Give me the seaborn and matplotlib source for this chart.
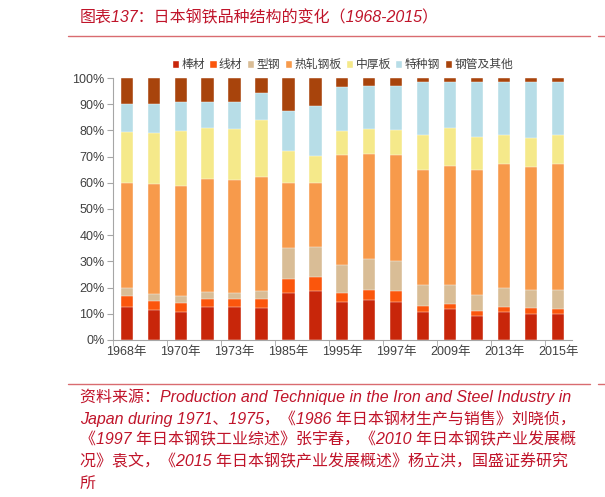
import numpy as np
import pandas as pd
import matplotlib
matplotlib.use("Agg")
import matplotlib.pyplot as plt
from matplotlib.patches import Patch
import seaborn as sns

# 17 bars, only every second one carries a year label
x_labels = ["1968年", "", "1970年", "", "1973年", "", "1985年", "", "1995年", "",
            "1997年", "", "2009年", "", "2013年", "", "2015年"]

bangcai = [12.6, 11.3, 10.6, 12.4, 12.4, 12.2, 17.8, 18.5, 14.5, 15.1, 14.5, 10.8, 11.7, 9.2, 10.5, 10.0, 10.0]
xiancai = [4.3, 3.7, 3.6, 3.4, 3.1, 3.6, 5.4, 5.6, 3.6, 4.1, 4.1, 2.1, 2.1, 1.8, 2.1, 2.1, 1.8]
xinggang = [3.0, 2.7, 2.7, 2.5, 2.4, 2.7, 11.8, 11.3, 10.6, 11.8, 11.5, 7.9, 7.2, 6.2, 7.3, 7.0, 7.3]
rezha = [40.1, 41.8, 42.0, 43.0, 43.2, 43.8, 24.9, 24.7, 42.0, 40.0, 40.6, 44.0, 45.4, 47.5, 47.1, 46.8, 48.0]
zhonghou = [19.5, 19.4, 21.0, 19.8, 19.5, 21.8, 12.1, 10.3, 8.9, 9.5, 9.4, 13.3, 14.7, 12.8, 11.1, 11.1, 11.1]
tezhong = [10.4, 11.2, 10.9, 9.9, 10.1, 10.2, 15.5, 18.8, 17.0, 16.3, 16.7, 20.5, 17.2, 21.0, 20.5, 21.5, 20.4]
gangguan = [10.1, 9.9, 9.2, 9.0, 9.3, 5.7, 12.5, 10.8, 3.4, 3.2, 3.2, 1.4, 1.7, 1.5, 1.4, 1.5, 1.4]

names = ["棒材", "线材", "型钢", "热轧钢板", "中厚板", "特种钢", "钢管及其他"]
colors = ["#C8260A", "#FB560C", "#D9BD96", "#F79A4B", "#F5E98A", "#B7DDE7", "#A8440C"]
series = [bangcai, xiancai, xinggang, rezha, zhonghou, tezhong, gangguan]

df = pd.DataFrame(dict(zip(names, series)))
df["idx"] = np.arange(len(df))
cum = df[names].cumsum(axis=1)
cum["idx"] = df["idx"]

sns.set_style("white")
plt.rcParams["font.family"] = ["Liberation Sans", "Noto Sans CJK SC", "DejaVu Sans"]

fig = plt.figure(figsize=(6.05, 4.97), dpi=100)
ax = fig.add_axes([0.187, 0.316, 0.758, 0.527])

# stacked bars: draw cumulative tops from the highest down
for name, col in reversed(list(zip(names, colors))):
    sns.barplot(data=cum, x="idx", y=name, color=col, width=0.45,
                saturation=1, ax=ax, edgecolor="white", linewidth=0.3)

ax.set_xlim(-0.5, len(df) - 0.5)
ax.set_ylim(0, 100)
ax.set_yticks(np.arange(0, 101, 10))
ax.set_yticklabels([f"{v}%" for v in range(0, 101, 10)])
ax.set_xticks(np.arange(0, len(df), 2))
ax.set_xticklabels(x_labels[::2])
ax.set_xticks(np.arange(-0.5, len(df) - 1, 2), minor=True)
ax.set_xlabel("")
ax.set_ylabel("")

for s in ["top", "right"]:
    ax.spines[s].set_visible(False)
for s in ["left", "bottom"]:
    ax.spines[s].set_color("#A6A6A6")
    ax.spines[s].set_linewidth(0.8)
ax.tick_params(axis="y", which="major", length=4, color="#A6A6A6", labelsize=9,
               labelcolor="#404040", left=True, pad=2)
ax.tick_params(axis="x", which="major", length=0, labelsize=9, labelcolor="#404040", pad=4)
ax.tick_params(axis="x", which="minor", length=4, color="#A6A6A6", bottom=True)

handles = [Patch(facecolor=c, label=n) for n, c in zip(names, colors)]
ax.legend(handles=handles, loc="lower center", bbox_to_anchor=(0.5, 1.0), ncol=7,
          frameon=False, fontsize=8.5, handlelength=0.6, handleheight=0.6,
          handletextpad=0.2, columnspacing=0.4, borderaxespad=0.2,
          labelcolor="#404040")

red = "#C0142A"
fig.text(80 / 605, 1 - 18 / 497, "图表137：日本钢铁品种结构的变化（1968-2015）",
         fontsize=11.5, color=red, style="italic", va="center", ha="left")
fig.add_artist(plt.Line2D([68 / 605, 590 / 605], [1 - 36 / 497] * 2, color="#D96B70", lw=1))
fig.add_artist(plt.Line2D([598 / 605, 1.0], [1 - 36 / 497] * 2, color="#D96B70", lw=1))
fig.add_artist(plt.Line2D([68 / 605, 590 / 605], [1 - 384 / 497] * 2, color="#D96B70", lw=1))
fig.add_artist(plt.Line2D([598 / 605, 1.0], [1 - 384 / 497] * 2, color="#D96B70", lw=1))

source_lines = [
    "资料来源：Production and Technique in the Iron and Steel Industry in",
    "Japan during 1971、1975，《1986 年日本钢材生产与销售》刘晓侦，",
    "《1997 年日本钢铁工业综述》张宇春，《2010 年日本钢铁产业发展概",
    "况》袁文，《2015 年日本钢铁产业发展概述》杨立洪，国盛证券研究",
    "所",
]
for i, line in enumerate(source_lines):
    fig.text(80 / 605, 1 - (397 + 21.5 * i) / 497, line, fontsize=11.5, color=red,
             style="italic", va="center", ha="left")

fig.savefig("out.png", dpi=100)
